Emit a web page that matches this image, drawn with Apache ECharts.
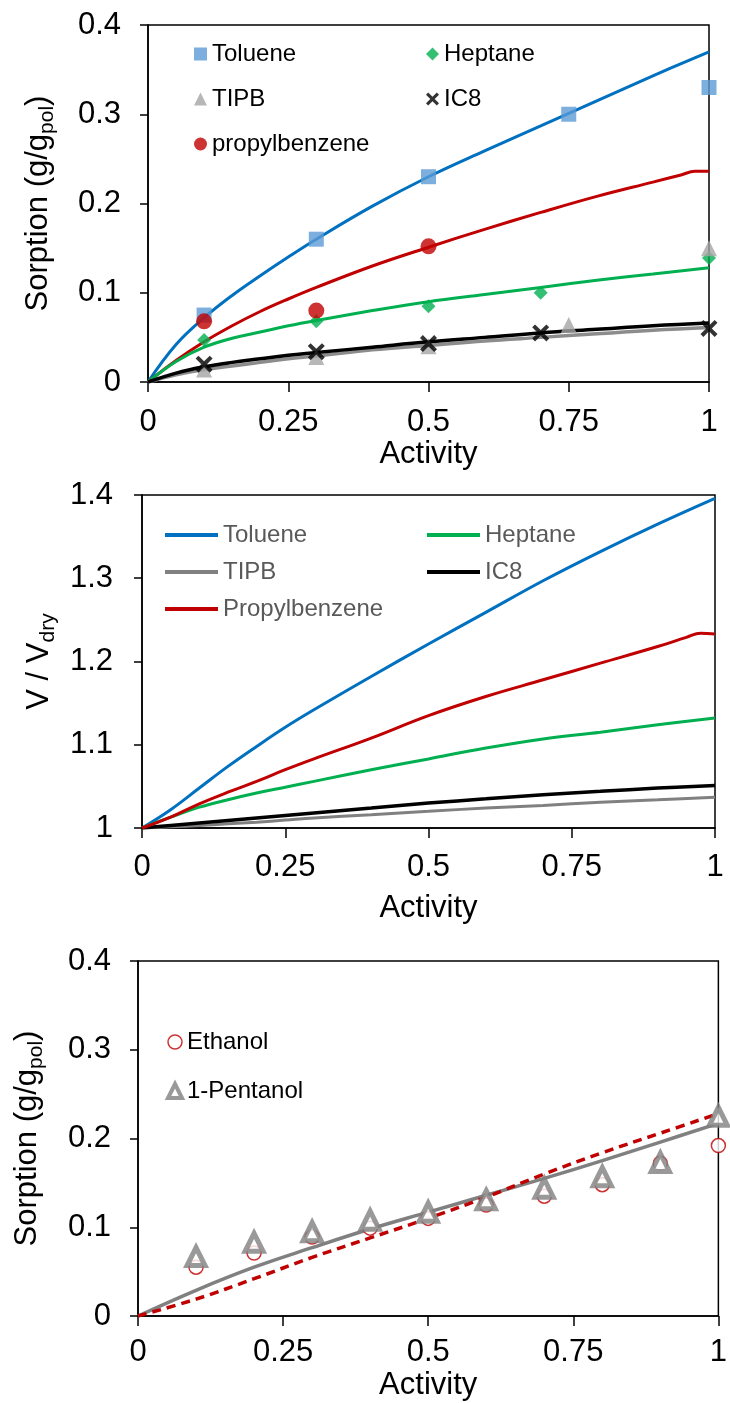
<!DOCTYPE html>
<html><head><meta charset="utf-8">
<script src="https://cdn.jsdelivr.net/npm/echarts@6/dist/echarts.min.js"></script>
<style>html,body{margin:0;padding:0;background:#fff}#c{width:730px;height:1403px}</style>
</head><body><div id="c"></div>
<script>
const FONT = 'Liberation Sans, Arial, sans-serif';

// ---------- shared ----------
const activityTicks = [0, 0.25, 0.5, 0.75, 1];

// ---------- Panel 1: sorption (measured points) ----------
const tolueneX = [0.1, 0.3, 0.5, 0.75, 1.0];
const tolueneY = [0.075, 0.16, 0.23, 0.30, 0.33];
const heptaneX = [0.1, 0.3, 0.5, 0.7, 1.0];
const heptaneY = [0.047, 0.068, 0.085, 0.100, 0.139];
const tipbX = [0.1, 0.3, 0.5, 0.75, 1.0];
const tipbY = [0.014, 0.028, 0.040, 0.064, 0.150];
const ic8X = [0.1, 0.3, 0.5, 0.7, 1.0];
const ic8Y = [0.020, 0.034, 0.043, 0.055, 0.060];
const propylX = [0.1, 0.3, 0.5];
const propylY = [0.068, 0.080, 0.152];

// Panel 1: model curves
const fitX1 = [0, 0.05, 0.1, 0.15, 0.2, 0.25, 0.3, 0.4, 0.5, 0.6, 0.7, 0.8, 0.9, 1.0];
const tolueneFit = [0, 0.042, 0.072, 0.097, 0.119, 0.140, 0.160, 0.197, 0.230, 0.259, 0.287, 0.315, 0.343, 0.370];
const heptaneFit = [0, 0.023, 0.039, 0.049, 0.056, 0.063, 0.069, 0.080, 0.090, 0.098, 0.106, 0.114, 0.121, 0.128];
const ic8Fit     = [0, 0.010, 0.017, 0.022, 0.026, 0.030, 0.033, 0.039, 0.045, 0.050, 0.055, 0.059, 0.063, 0.066];
const tipbFit    = [0, 0.008, 0.014, 0.018, 0.022, 0.026, 0.029, 0.036, 0.041, 0.046, 0.050, 0.054, 0.058, 0.061];
const propylFitX = [0, 0.05, 0.1, 0.15, 0.2, 0.25, 0.3, 0.4, 0.5, 0.6, 0.7, 0.8, 0.9, 0.95, 0.975, 1.0];
const propylFit  = [0, 0.024, 0.045, 0.063, 0.079, 0.093, 0.106, 0.130, 0.151, 0.171, 0.190, 0.208, 0.224, 0.232, 0.236, 0.236];

// ---------- Panel 2: swelling V/Vdry ----------
const fitX2 = [0, 0.05, 0.1, 0.15, 0.2, 0.25, 0.3, 0.4, 0.5, 0.6, 0.7, 0.8, 0.9, 1.0];
const tolueneV = [1, 1.022, 1.048, 1.074, 1.098, 1.121, 1.142, 1.182, 1.221, 1.259, 1.297, 1.332, 1.365, 1.396];
const heptaneV = [1, 1.013, 1.025, 1.034, 1.042, 1.049, 1.056, 1.070, 1.083, 1.096, 1.107, 1.115, 1.124, 1.132];
const ic8V     = [1, 1.003, 1.006, 1.009, 1.012, 1.015, 1.018, 1.024, 1.030, 1.035, 1.040, 1.044, 1.048, 1.051];
const tipbV    = [1, 1.0015, 1.003, 1.005, 1.007, 1.0095, 1.012, 1.016, 1.020, 1.024, 1.027, 1.031, 1.034, 1.037];
const propylVX = [0, 0.05, 0.1, 0.15, 0.2, 0.25, 0.3, 0.4, 0.5, 0.6, 0.7, 0.8, 0.9, 0.95, 0.975, 1.0];
const propylV  = [1, 1.013, 1.029, 1.043, 1.056, 1.070, 1.083, 1.108, 1.135, 1.158, 1.178, 1.198, 1.218, 1.229, 1.234, 1.233];

// ---------- Panel 3: alcohols ----------
const alcX = [0.1, 0.2, 0.3, 0.4, 0.5, 0.6, 0.7, 0.8, 0.9, 1.0];
const ethanolY  = [0.055, 0.071, 0.089, 0.099, 0.110, 0.125, 0.135, 0.148, 0.172, 0.192];
const pentanolY = [0.067, 0.083, 0.095, 0.108, 0.117, 0.131, 0.144, 0.157, 0.173, 0.225];
const fitX3 = [0, 0.1, 0.2, 0.3, 0.4, 0.5, 0.6, 0.7, 0.8, 0.9, 1.0];
const pentanolFit = [0, 0.029, 0.055, 0.077, 0.098, 0.117, 0.136, 0.155, 0.175, 0.196, 0.217];
const ethanolFit  = [0, 0.019, 0.042, 0.066, 0.088, 0.110, 0.134, 0.160, 0.184, 0.206, 0.228];

// ---------- helpers ----------
const zip = (xs, ys) => xs.map((x, i) => [x, ys[i]]);
const XMARK = 'path://M0,2 L2,0 L6,4 L10,0 L12,2 L8,6 L12,10 L10,12 L6,8 L2,12 L0,10 L4,6 Z';

const axisLine = { show: true, onZero: false, lineStyle: { color: '#000', width: 1.5 } };
const subRich = {
  a: { fontFamily: FONT, fontSize: 31, color: '#000' },
  b: { fontFamily: FONT, fontSize: 21, color: '#000', padding: [18, 0, 0, 0] }
};
function xAxis(gi, margin, nameGap) {
  return {
    type: 'value', gridIndex: gi, min: activityTicks[0], max: activityTicks[activityTicks.length - 1], interval: 0.25,
    name: 'Activity', nameLocation: 'middle', nameGap: nameGap,
    nameTextStyle: { fontFamily: FONT, fontSize: 31, color: '#000' },
    axisLine: axisLine,
    axisTick: { show: true, length: 10, lineStyle: { color: '#000', width: 1.5 } },
    axisLabel: { fontFamily: FONT, fontSize: 31, color: '#000', margin: margin },
    splitLine: { show: false }
  };
}
function yAxis(gi, min, max, name, margin, nameGap) {
  return {
    type: 'value', gridIndex: gi, min: min, max: max, interval: 0.1,
    name: name, nameLocation: 'middle', nameGap: nameGap, nameRotate: 90,
    nameTextStyle: { fontFamily: FONT, fontSize: 31, color: '#000', rich: subRich },
    axisLine: axisLine,
    axisTick: { show: true, length: 8, lineStyle: { color: '#000', width: 1.5 } },
    axisLabel: { fontFamily: FONT, fontSize: 31, color: '#000', margin: margin },
    splitLine: { show: false }
  };
}

function lineS(name, xi, xs, ys, color, width, type) {
  return {
    type: 'line', name: name, xAxisIndex: xi, yAxisIndex: xi,
    data: zip(xs, ys), smooth: 0.4, symbol: 'none', showSymbol: false,
    lineStyle: { color: color, width: width, type: type || 'solid' },
    itemStyle: { color: color }, z: 2, silent: true
  };
}
function scatS(name, xi, xs, ys, symbol, size, style) {
  return {
    type: 'scatter', name: name, xAxisIndex: xi, yAxisIndex: xi,
    data: zip(xs, ys), symbol: symbol, symbolSize: size,
    itemStyle: style, z: 3, silent: true
  };
}
const legendBase = {
  orient: 'vertical', selectedMode: false,
  textStyle: { fontFamily: FONT, fontSize: 24, color: '#000' },
  formatter: n => n.split('|')[0]
};
const lineIcon = 'rect';

const option = {
  animation: false,
  backgroundColor: '#fff',
  grid: [
    { left: 148, top: 25, width: 561, height: 357, show: true, borderColor: '#000', borderWidth: 1.5 },
    { left: 142, top: 495, width: 573, height: 333, show: true, borderColor: '#000', borderWidth: 1.5 },
    { left: 138, top: 961, width: 585, height: 355, show: true, borderColor: '#000', borderWidth: 1.5 }
  ],
  xAxis: [ xAxis(0, 25, 55), xAxis(1, 24, 65), xAxis(2, 21, 54) ],
  yAxis: [
    yAxis(0, 0, 0.4, '{a|Sorption (g/g}{b|pol}{a|)}', 27, 90),
    yAxis(1, 1, 1.4, '{a|V / V}{b|dry}', 29, 74),
    yAxis(2, 0, 0.4, '{a|Sorption (g/g}{b|pol}{a|)}', 27, 91)
  ],
  legend: [
    Object.assign({}, legendBase, { left: 189, top: 37, itemGap: 21, itemWidth: 13, itemHeight: 13,
      data: [{ name: 'Toluene', icon: 'rect' }, { name: 'TIPB', icon: 'triangle' }, { name: 'propylbenzene', icon: 'circle' }] }),
    Object.assign({}, legendBase, { left: 421, top: 37, itemGap: 21, itemWidth: 13, itemHeight: 13,
      data: [{ name: 'Heptane', icon: 'diamond' }, { name: 'IC8', icon: XMARK }] }),
    Object.assign({}, legendBase, { left: 160, top: 518, itemGap: 13, itemWidth: 53, itemHeight: 4,
      textStyle: { fontFamily: FONT, fontSize: 24, color: '#595959' },
      data: [{ name: 'Toluene|V', icon: lineIcon }, { name: 'TIPB|V', icon: lineIcon }, { name: 'Propylbenzene|V', icon: lineIcon }] }),
    Object.assign({}, legendBase, { left: 422, top: 518, itemGap: 13, itemWidth: 53, itemHeight: 4,
      textStyle: { fontFamily: FONT, fontSize: 24, color: '#595959' },
      data: [{ name: 'Heptane|V', icon: lineIcon }, { name: 'IC8|V', icon: lineIcon }] }),
    Object.assign({}, legendBase, { left: 161, top: 1025, itemGap: 25, itemWidth: 14, itemHeight: 14,
      data: [
        { name: 'Ethanol', icon: 'circle', itemStyle: { color: '#ffffff', borderColor: '#C00000', borderWidth: 1.5 } },
        { name: '1-Pentanol', icon: 'triangle', itemStyle: { color: '#ffffff', borderColor: '#7F7F7F', borderWidth: 4 } }
      ] })
  ],
  series: [
    // panel 1 curves
    lineS('Toluene|fit', 0, fitX1, tolueneFit, '#0070C0', 3),
    lineS('propylbenzene|fit', 0, propylFitX, propylFit, '#C00000', 3),
    lineS('Heptane|fit', 0, fitX1, heptaneFit, '#00B050', 3),
    lineS('TIPB|fit', 0, fitX1, tipbFit, '#8C8C8C', 3.5),
    lineS('IC8|fit', 0, fitX1, ic8Fit, '#000000', 3.5),
    // panel 1 points
    scatS('Toluene', 0, tolueneX, tolueneY, 'rect', 15, { color: '#5B9BD5' }),
    scatS('Heptane', 0, heptaneX, heptaneY, 'diamond', 14, { color: '#00B050' }),
    scatS('TIPB', 0, tipbX, tipbY, 'triangle', 16, { color: '#A5A5A5' }),
    scatS('IC8', 0, ic8X, ic8Y, XMARK, 17, { color: '#000000' }),
    scatS('propylbenzene', 0, propylX, propylY, 'circle', 16, { color: '#C00000' }),
    // panel 2
    lineS('Toluene|V', 1, fitX2, tolueneV, '#0070C0', 3),
    lineS('Heptane|V', 1, fitX2, heptaneV, '#00B050', 3),
    lineS('TIPB|V', 1, fitX2, tipbV, '#808080', 3),
    lineS('IC8|V', 1, fitX2, ic8V, '#000000', 3.5),
    lineS('Propylbenzene|V', 1, propylVX, propylV, '#C00000', 3),
    // panel 3
    lineS('1-Pentanol|fit', 2, fitX3, pentanolFit, '#808080', 3.5),
    lineS('Ethanol|fit', 2, fitX3, ethanolFit, '#C00000', 3.5, [9, 6]),
    scatS('Ethanol', 2, alcX, ethanolY, 'circle', 14, { color: '#ffffff', borderColor: '#C00000', borderWidth: 1.5 }),
    scatS('1-Pentanol', 2, alcX, pentanolY, 'triangle', 18, { color: '#ffffff', borderColor: '#7F7F7F', borderWidth: 5 })
  ]
};
const chart = echarts.init(document.getElementById('c'), null, { renderer: 'canvas' });
chart.setOption(option);
</script></body></html>
